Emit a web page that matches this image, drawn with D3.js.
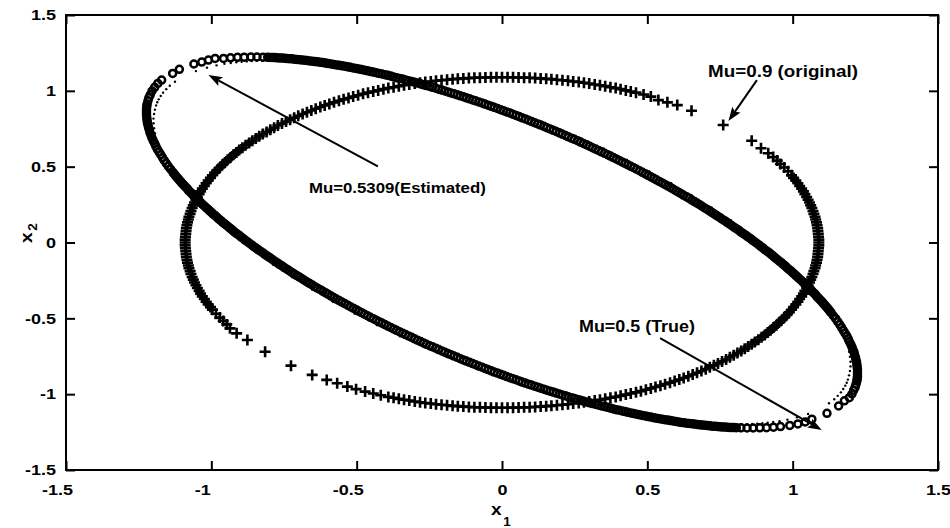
<!DOCTYPE html>
<html>
<head>
<meta charset="utf-8">
<script src="https://cdn.jsdelivr.net/npm/d3@7"></script>
<style>
  html, body { margin: 0; padding: 0; background: #fff; }
  svg text { font-family: "Liberation Sans", Arial, Helvetica, sans-serif; font-weight: bold; fill: #000; }
</style>
</head>
<body>
<svg id="chart" width="950" height="528"></svg>
<script>
// ---- axis ticks -------------------------------------------------------------
const xTicks = [-1.5, -1, -0.5, 0, 0.5, 1, 1.5];
const yTicks = [-1.5, -1, -0.5, 0, 0.5, 1, 1.5];
const xTickLabels = ["-1.5", "-1", "-0.5", "0", "0.5", "1", "1.5"];
const yTickLabels = ["-1.5", "-1", "-0.5", "0", "0.5", "1", "1.5"];

// ---- annotation texts -------------------------------------------------------
const noteLabels = ["Mu=0.5309(Estimated)", "Mu=0.9 (original)", "Mu=0.5 (True)"];

// ---- phase portrait samples [x1, x2] ----------------------------------------
// estimated model (Mu = 0.5309), 'o' markers
const muEstimated = [
[-1.171,1.071],[-1.133,1.115],[-1.110,1.142],[-1.060,1.177],[-1.033,1.190],[-1.010,1.203],[-0.987,1.214],
[-0.958,1.214],[-0.934,1.218],[-0.910,1.221],[-0.887,1.222],[-0.864,1.223],[-0.843,1.223],[-0.822,1.222],
[-0.806,1.221],[-0.790,1.220],[-0.774,1.218],[-0.757,1.216],[-0.740,1.213],[-0.723,1.211],[-0.706,1.207],[-0.689,1.204],[-0.671,1.200],[-0.653,1.195],[-0.635,1.191],[-0.616,1.186],[-0.598,1.180],[-0.579,1.174],[-0.560,1.168],
[-0.551,1.165],[-0.541,1.162],[-0.531,1.158],[-0.522,1.155],[-0.512,1.151],[-0.502,1.148],[-0.493,1.144],[-0.483,1.140],[-0.473,1.136],[-0.463,1.132],
[-0.453,1.128],[-0.443,1.124],[-0.433,1.120],[-0.423,1.115],[-0.413,1.111],[-0.403,1.106],[-0.393,1.102],[-0.383,1.097],[-0.373,1.092],[-0.363,1.087],
[-0.353,1.082],[-0.342,1.078],[-0.332,1.072],[-0.322,1.067],[-0.311,1.062],[-0.301,1.057],[-0.291,1.051],[-0.280,1.046],[-0.270,1.040],[-0.260,1.035],
[-0.249,1.029],[-0.239,1.023],[-0.228,1.017],[-0.218,1.011],[-0.207,1.005],[-0.197,0.999],[-0.186,0.993],[-0.176,0.986],[-0.165,0.980],[-0.154,0.974],
[-0.144,0.967],[-0.133,0.961],[-0.123,0.954],[-0.112,0.947],[-0.101,0.940],[-0.091,0.934],[-0.080,0.927],[-0.069,0.920],[-0.059,0.913],[-0.048,0.905],
[-0.037,0.898],[-0.027,0.891],[-0.016,0.884],[-0.005,0.876],[0.005,0.869],[0.016,0.861],[0.027,0.854],[0.037,0.846],[0.048,0.838],[0.059,0.830],
[0.069,0.822],[0.080,0.815],[0.091,0.806],[0.101,0.798],[0.112,0.790],[0.123,0.782],[0.133,0.774],[0.144,0.766],[0.154,0.757],[0.165,0.749],
[0.176,0.740],[0.186,0.732],[0.197,0.723],[0.207,0.715],[0.218,0.706],[0.228,0.697],[0.239,0.688],[0.249,0.680],[0.260,0.671],[0.270,0.662],
[0.280,0.653],[0.291,0.644],[0.301,0.635],[0.311,0.625],[0.322,0.616],[0.332,0.607],[0.342,0.598],[0.353,0.588],[0.363,0.579],[0.373,0.570],
[0.383,0.560],[0.393,0.551],[0.403,0.541],[0.413,0.531],[0.423,0.522],[0.433,0.512],[0.443,0.502],[0.453,0.493],[0.463,0.483],[0.473,0.473],
[0.483,0.463],[0.493,0.453],[0.502,0.443],[0.512,0.433],[0.522,0.423],[0.531,0.413],[0.541,0.403],[0.551,0.393],[0.560,0.383],[0.570,0.373],
[0.579,0.363],[0.588,0.353],[0.598,0.342],[0.607,0.332],[0.616,0.322],[0.625,0.311],[0.635,0.301],[0.644,0.291],[0.653,0.280],[0.662,0.270],
[0.671,0.260],[0.680,0.249],[0.688,0.239],[0.697,0.228],[0.706,0.218],[0.715,0.207],[0.723,0.197],[0.732,0.186],[0.740,0.176],[0.749,0.165],
[0.757,0.154],[0.766,0.144],[0.774,0.133],[0.782,0.123],[0.790,0.112],[0.798,0.101],[0.806,0.091],[0.815,0.080],[0.822,0.069],[0.830,0.059],
[0.846,0.037],[0.861,0.016],[0.876,-0.005],[0.891,-0.027],[0.905,-0.048],[0.920,-0.069],[0.934,-0.091],[0.947,-0.112],[0.961,-0.133],[0.974,-0.154],
[0.986,-0.176],[0.999,-0.197],[1.011,-0.218],[1.023,-0.239],[1.035,-0.260],[1.046,-0.280],[1.057,-0.301],[1.067,-0.322],[1.078,-0.342],[1.087,-0.363],
[1.097,-0.383],[1.106,-0.403],[1.115,-0.423],[1.124,-0.443],[1.132,-0.463],[1.140,-0.483],[1.148,-0.502],[1.155,-0.522],[1.162,-0.541],[1.168,-0.560],
[1.174,-0.579],[1.180,-0.598],[1.186,-0.616],[1.191,-0.635],[1.195,-0.653],[1.200,-0.671],[1.204,-0.689],[1.207,-0.706],[1.211,-0.723],[1.213,-0.740],
[1.216,-0.757],[1.218,-0.774],[1.220,-0.790],[1.221,-0.806],[1.222,-0.822],[1.223,-0.838],[1.223,-0.854],[1.223,-0.869],[1.223,-0.884],[1.222,-0.898],
[1.221,-0.913],[1.218,-0.934],[1.215,-0.954],[1.210,-0.974],[1.204,-0.999],[1.195,-1.023],
[1.178,-1.044],[1.158,-1.078],[1.118,-1.126],[1.066,-1.165],[1.043,-1.183],[1.018,-1.196],[0.990,-1.206],
[0.958,-1.214],[0.934,-1.218],[0.910,-1.221],[0.887,-1.222],[0.864,-1.223],[0.843,-1.223],[0.822,-1.222],
[0.806,-1.221],[0.790,-1.220],[0.774,-1.218],[0.757,-1.216],[0.740,-1.213],[0.723,-1.211],[0.706,-1.207],[0.689,-1.204],[0.671,-1.200],[0.653,-1.195],[0.635,-1.191],[0.616,-1.186],[0.598,-1.180],[0.579,-1.174],[0.560,-1.168],
[0.551,-1.165],[0.541,-1.162],[0.531,-1.158],[0.522,-1.155],[0.512,-1.151],[0.502,-1.148],[0.493,-1.144],[0.483,-1.140],[0.473,-1.136],[0.463,-1.132],
[0.453,-1.128],[0.443,-1.124],[0.433,-1.120],[0.423,-1.115],[0.413,-1.111],[0.403,-1.106],[0.393,-1.102],[0.383,-1.097],[0.373,-1.092],[0.363,-1.087],
[0.353,-1.082],[0.342,-1.078],[0.332,-1.072],[0.322,-1.067],[0.311,-1.062],[0.301,-1.057],[0.291,-1.051],[0.280,-1.046],[0.270,-1.040],[0.260,-1.035],
[0.249,-1.029],[0.239,-1.023],[0.228,-1.017],[0.218,-1.011],[0.207,-1.005],[0.197,-0.999],[0.186,-0.993],[0.176,-0.986],[0.165,-0.980],[0.154,-0.974],
[0.144,-0.967],[0.133,-0.961],[0.123,-0.954],[0.112,-0.947],[0.101,-0.940],[0.091,-0.934],[0.080,-0.927],[0.069,-0.920],[0.059,-0.913],[0.048,-0.905],
[0.037,-0.898],[0.027,-0.891],[0.016,-0.884],[0.005,-0.876],[-0.005,-0.869],[-0.016,-0.861],[-0.027,-0.854],[-0.037,-0.846],[-0.048,-0.838],[-0.059,-0.830],
[-0.069,-0.822],[-0.080,-0.815],[-0.091,-0.806],[-0.101,-0.798],[-0.112,-0.790],[-0.123,-0.782],[-0.133,-0.774],[-0.144,-0.766],[-0.154,-0.757],[-0.165,-0.749],
[-0.176,-0.740],[-0.186,-0.732],[-0.197,-0.723],[-0.207,-0.715],[-0.218,-0.706],[-0.228,-0.697],[-0.239,-0.688],[-0.249,-0.680],[-0.260,-0.671],[-0.270,-0.662],
[-0.280,-0.653],[-0.291,-0.644],[-0.301,-0.635],[-0.311,-0.625],[-0.322,-0.616],[-0.332,-0.607],[-0.342,-0.598],[-0.353,-0.588],[-0.363,-0.579],[-0.373,-0.570],
[-0.383,-0.560],[-0.393,-0.551],[-0.403,-0.541],[-0.413,-0.531],[-0.423,-0.522],[-0.433,-0.512],[-0.443,-0.502],[-0.453,-0.493],[-0.463,-0.483],[-0.473,-0.473],
[-0.483,-0.463],[-0.493,-0.453],[-0.502,-0.443],[-0.512,-0.433],[-0.522,-0.423],[-0.531,-0.413],[-0.541,-0.403],[-0.551,-0.393],[-0.560,-0.383],[-0.570,-0.373],
[-0.579,-0.363],[-0.588,-0.353],[-0.598,-0.342],[-0.607,-0.332],[-0.616,-0.322],[-0.625,-0.311],[-0.635,-0.301],[-0.644,-0.291],[-0.653,-0.280],[-0.662,-0.270],
[-0.671,-0.260],[-0.680,-0.249],[-0.688,-0.239],[-0.697,-0.228],[-0.706,-0.218],[-0.715,-0.207],[-0.723,-0.197],[-0.732,-0.186],[-0.740,-0.176],[-0.749,-0.165],
[-0.757,-0.154],[-0.766,-0.144],[-0.774,-0.133],[-0.782,-0.123],[-0.790,-0.112],[-0.798,-0.101],[-0.806,-0.091],[-0.815,-0.080],[-0.822,-0.069],[-0.830,-0.059],
[-0.846,-0.037],[-0.861,-0.016],[-0.876,0.005],[-0.891,0.027],[-0.905,0.048],[-0.920,0.069],[-0.934,0.091],[-0.947,0.112],[-0.961,0.133],[-0.974,0.154],
[-0.986,0.176],[-0.999,0.197],[-1.011,0.218],[-1.023,0.239],[-1.035,0.260],[-1.046,0.280],[-1.057,0.301],[-1.067,0.322],[-1.078,0.342],[-1.087,0.363],
[-1.097,0.383],[-1.106,0.403],[-1.115,0.423],[-1.124,0.443],[-1.132,0.463],[-1.140,0.483],[-1.148,0.502],[-1.155,0.522],[-1.162,0.541],[-1.168,0.560],
[-1.174,0.579],[-1.180,0.598],[-1.186,0.616],[-1.191,0.635],[-1.195,0.653],[-1.200,0.671],[-1.204,0.689],[-1.207,0.706],[-1.211,0.723],[-1.213,0.740],
[-1.216,0.757],[-1.218,0.774],[-1.220,0.790],[-1.221,0.806],[-1.222,0.822],[-1.223,0.838],[-1.223,0.854],[-1.223,0.869],[-1.223,0.884],[-1.222,0.898],
[-1.221,0.913],[-1.218,0.934],[-1.215,0.954],[-1.210,0.974],[-1.204,0.999],[-1.195,1.023],[-1.184,1.049],
[-0.798,1.220],[-0.782,1.219],[-0.766,1.217],[-0.749,1.215],[-0.732,1.212],[-0.715,1.209],[-0.697,1.205],[-0.680,1.202],[-0.662,1.197],[-0.644,1.193],
[-0.625,1.188],[-0.607,1.183],[-0.588,1.177],[-0.570,1.171],
[0.798,-1.220],[0.782,-1.219],[0.766,-1.217],[0.749,-1.215],[0.732,-1.212],[0.715,-1.209],[0.697,-1.205],[0.680,-1.202],[0.662,-1.197],[0.644,-1.193],
[0.625,-1.188],[0.607,-1.183],[0.588,-1.177],[0.570,-1.171],
[0.838,0.048],[0.854,0.027],[0.869,0.005],[0.884,-0.016],[0.898,-0.037],[0.913,-0.059],[0.927,-0.080],[0.940,-0.101],[0.954,-0.123],[0.967,-0.144],
[0.980,-0.165],[0.993,-0.186],[1.005,-0.207],[1.017,-0.228],[1.029,-0.249],[1.040,-0.270],[1.051,-0.291],[1.062,-0.311],[1.072,-0.332],[1.082,-0.353],
[1.092,-0.373],[1.102,-0.393],[1.111,-0.413],[1.120,-0.433],[1.128,-0.453],
[-0.838,-0.048],[-0.854,-0.027],[-0.869,-0.005],[-0.884,0.016],[-0.898,0.037],[-0.913,0.059],[-0.927,0.080],[-0.940,0.101],[-0.954,0.123],[-0.967,0.144],
[-0.980,0.165],[-0.993,0.186],[-1.005,0.207],[-1.017,0.228],[-1.029,0.249],[-1.040,0.270],[-1.051,0.291],[-1.062,0.311],[-1.072,0.332],[-1.082,0.353],
[-1.092,0.373],[-1.102,0.393],[-1.111,0.413],[-1.120,0.433],[-1.128,0.453]
];

// original system (Mu = 0.9), '+' markers
const muOriginal = [
[0.761,0.775],[0.652,0.869],[0.603,0.906],[0.569,0.924],[0.538,0.939],[0.512,0.962],[0.487,0.976],[0.461,0.988],
[0.443,0.996],[0.426,1.003],[0.408,1.011],[0.391,1.018],[0.373,1.024],[0.355,1.031],[0.337,1.037],[0.319,1.042],[0.300,1.048],[0.282,1.053],
[0.264,1.058],[0.245,1.062],[0.227,1.066],[0.208,1.070],[0.189,1.073],[0.170,1.077],[0.152,1.079],[0.133,1.082],[0.114,1.084],[0.095,1.086],
[0.076,1.087],[0.057,1.088],[0.038,1.089],[0.019,1.090],[0.000,1.090],
[-0.019,1.090],[-0.038,1.089],[-0.057,1.088],[-0.076,1.087],[-0.095,1.086],[-0.114,1.084],[-0.133,1.082],[-0.152,1.079],[-0.170,1.077],[-0.189,1.073],
[-0.208,1.070],[-0.227,1.066],[-0.245,1.062],[-0.264,1.058],[-0.282,1.053],[-0.300,1.048],[-0.319,1.042],[-0.337,1.037],[-0.355,1.031],[-0.373,1.024],
[-0.391,1.018],[-0.408,1.011],[-0.426,1.003],[-0.443,0.996],[-0.461,0.988],[-0.478,0.980],[-0.495,0.971],[-0.512,0.962],[-0.528,0.953],[-0.545,0.944],
[-0.561,0.934],[-0.578,0.924],[-0.594,0.914],[-0.610,0.904],[-0.625,0.893],[-0.641,0.882],[-0.656,0.870],[-0.671,0.859],[-0.686,0.847],[-0.701,0.835],
[-0.715,0.823],[-0.729,0.810],[-0.743,0.797],[-0.757,0.784],[-0.771,0.771],[-0.784,0.757],[-0.797,0.743],[-0.810,0.729],[-0.823,0.715],[-0.835,0.701],
[-0.847,0.686],[-0.859,0.671],[-0.870,0.656],[-0.882,0.641],[-0.893,0.625],[-0.904,0.610],[-0.914,0.594],[-0.924,0.578],[-0.934,0.561],[-0.944,0.545],
[-0.953,0.528],[-0.962,0.512],[-0.971,0.495],[-0.980,0.478],[-0.988,0.461],[-0.996,0.443],[-1.003,0.426],[-1.011,0.408],[-1.018,0.391],[-1.024,0.373],
[-1.031,0.355],[-1.037,0.337],[-1.042,0.319],[-1.048,0.300],[-1.053,0.282],[-1.058,0.264],[-1.062,0.245],[-1.066,0.227],[-1.070,0.208],[-1.073,0.189],
[-1.077,0.170],[-1.079,0.152],[-1.082,0.133],[-1.084,0.114],[-1.086,0.095],[-1.087,0.076],[-1.088,0.057],[-1.089,0.038],[-1.090,0.019],[-1.090,0.000],
[-1.090,-0.019],[-1.089,-0.038],[-1.088,-0.057],[-1.087,-0.076],[-1.086,-0.095],[-1.084,-0.114],[-1.082,-0.133],[-1.079,-0.152],[-1.077,-0.170],[-1.073,-0.189],
[-1.070,-0.208],[-1.066,-0.227],[-1.062,-0.245],[-1.058,-0.264],[-1.053,-0.282],[-1.048,-0.300],[-1.042,-0.319],[-1.037,-0.337],[-1.031,-0.355],[-1.024,-0.373],
[-1.018,-0.391],[-1.011,-0.408],[-1.003,-0.426],[-0.996,-0.443],[-0.984,-0.470],[-0.971,-0.495],[-0.959,-0.517],[-0.947,-0.540],
[-0.936,-0.566],[-0.913,-0.599],[-0.876,-0.643],[-0.815,-0.720],
[-0.726,-0.812],[-0.653,-0.873],[-0.603,-0.906],[-0.567,-0.928],[-0.532,-0.950],
[-0.502,-0.967],[-0.471,-0.983],[-0.443,-0.996],[-0.417,-1.007],[-0.391,-1.018],
[-0.373,-1.024],[-0.355,-1.031],[-0.337,-1.037],[-0.319,-1.042],[-0.300,-1.048],[-0.282,-1.053],[-0.264,-1.058],[-0.245,-1.062],[-0.227,-1.066],[-0.208,-1.070],
[-0.189,-1.073],[-0.170,-1.077],[-0.152,-1.079],[-0.133,-1.082],[-0.114,-1.084],[-0.095,-1.086],[-0.076,-1.087],[-0.057,-1.088],[-0.038,-1.089],[-0.019,-1.090],
[0.000,-1.090],[0.019,-1.090],[0.038,-1.089],[0.057,-1.088],[0.076,-1.087],[0.095,-1.086],[0.114,-1.084],[0.133,-1.082],[0.152,-1.079],[0.170,-1.077],
[0.189,-1.073],[0.208,-1.070],[0.227,-1.066],[0.245,-1.062],[0.264,-1.058],[0.282,-1.053],[0.300,-1.048],[0.319,-1.042],[0.337,-1.037],[0.355,-1.031],
[0.373,-1.024],[0.391,-1.018],[0.408,-1.011],[0.426,-1.003],[0.443,-0.996],[0.461,-0.988],[0.478,-0.980],[0.495,-0.971],[0.512,-0.962],[0.528,-0.953],
[0.545,-0.944],[0.561,-0.934],[0.578,-0.924],[0.594,-0.914],[0.610,-0.904],[0.625,-0.893],[0.641,-0.882],[0.656,-0.870],[0.671,-0.859],[0.686,-0.847],
[0.701,-0.835],[0.715,-0.823],[0.729,-0.810],[0.743,-0.797],[0.757,-0.784],[0.771,-0.771],[0.784,-0.757],[0.797,-0.743],[0.810,-0.729],[0.823,-0.715],
[0.835,-0.701],[0.847,-0.686],[0.859,-0.671],[0.870,-0.656],[0.882,-0.641],[0.893,-0.625],[0.904,-0.610],[0.914,-0.594],[0.924,-0.578],[0.934,-0.561],
[0.944,-0.545],[0.953,-0.528],[0.962,-0.512],[0.971,-0.495],[0.980,-0.478],[0.988,-0.461],[0.996,-0.443],[1.003,-0.426],[1.011,-0.408],[1.018,-0.391],
[1.024,-0.373],[1.031,-0.355],[1.037,-0.337],[1.042,-0.319],[1.048,-0.300],[1.053,-0.282],[1.058,-0.264],[1.062,-0.245],[1.066,-0.227],[1.070,-0.208],
[1.073,-0.189],[1.077,-0.170],[1.079,-0.152],[1.082,-0.133],[1.084,-0.114],[1.086,-0.095],[1.087,-0.076],[1.088,-0.057],[1.089,-0.038],[1.090,-0.019],
[1.090,0.000],[1.090,0.019],[1.089,0.038],[1.088,0.057],[1.087,0.076],[1.086,0.095],[1.084,0.114],[1.082,0.133],[1.079,0.152],[1.077,0.170],
[1.073,0.189],[1.070,0.208],[1.066,0.227],[1.062,0.245],[1.058,0.264],[1.053,0.282],[1.048,0.300],[1.042,0.319],[1.037,0.337],[1.031,0.355],
[1.024,0.373],[1.018,0.391],[1.011,0.408],[1.003,0.426],[0.996,0.443],[0.984,0.470],[0.971,0.495],[0.958,0.518],[0.947,0.540],[0.933,0.563],
[0.916,0.588],[0.891,0.621],[0.859,0.671]
];

// true system (Mu = 0.5), '.' markers
const muTrue = [
[-1.197,0.754],[-1.199,0.786],[-1.199,0.817],[-1.197,0.847],[-1.194,0.876],[-1.190,0.904],[-1.186,0.925],[-1.181,0.944],[-1.174,0.966],[-1.166,0.988],
[-1.155,1.011],[-1.143,1.034],[-1.125,1.060],
[-1.053,1.130],[-1.015,1.153],[-0.982,1.168],[-0.955,1.178],[-0.933,1.184],[-0.914,1.188],[-0.896,1.191],[-0.878,1.194],[-0.861,1.196],[-0.843,1.198],
[-0.825,1.198],[-0.806,1.199],[-0.786,1.199],[-0.762,1.198],[-0.738,1.196],
[-0.687,1.190],[-0.617,1.177],[-0.544,1.158],[-0.468,1.134],[-0.390,1.104],[-0.310,1.068],[-0.228,1.028],[-0.146,0.982],[-0.062,0.932],[0.021,0.877],
[0.105,0.818],[0.188,0.755],[0.270,0.688],[0.351,0.618],[0.430,0.545],[0.507,0.469],[0.582,0.391],[0.653,0.311],[0.722,0.229],[0.787,0.147],
[0.848,0.063],[0.905,-0.020],[0.958,-0.104],[1.006,-0.187],[1.049,-0.269],[1.087,-0.350],[1.119,-0.429],[1.147,-0.506],[1.168,-0.581],[1.184,-0.653],[1.194,-0.721],
[1.197,-0.754],[1.199,-0.786],[1.199,-0.817],[1.197,-0.847],[1.194,-0.876],[1.190,-0.904],[1.186,-0.925],[1.181,-0.944],[1.174,-0.966],[1.166,-0.988],
[1.155,-1.011],[1.143,-1.034],[1.125,-1.060],
[1.053,-1.130],[1.015,-1.153],[0.982,-1.168],[0.955,-1.178],[0.933,-1.184],[0.914,-1.188],[0.896,-1.191],[0.878,-1.194],[0.861,-1.196],[0.843,-1.198],
[0.825,-1.198],[0.806,-1.199],[0.786,-1.199],[0.762,-1.198],[0.738,-1.196],
[0.687,-1.190],[0.617,-1.177],[0.544,-1.158],[0.468,-1.134],[0.390,-1.104],[0.310,-1.068],[0.228,-1.028],[0.146,-0.982],[0.062,-0.932],[-0.021,-0.877],
[-0.105,-0.818],[-0.188,-0.755],[-0.270,-0.688],[-0.351,-0.618],[-0.430,-0.545],[-0.507,-0.469],[-0.582,-0.391],[-0.653,-0.311],[-0.722,-0.229],[-0.787,-0.147],
[-0.848,-0.063],[-0.905,0.020],[-0.958,0.104],[-1.006,0.187],[-1.049,0.269],[-1.087,0.350],[-1.119,0.429],[-1.147,0.506],[-1.168,0.581],[-1.184,0.653],[-1.194,0.721]
];

// ---- layout -------------------------------------------------------------------
const W = 950, H = 528;
const margin = { left: 66, right: 12, top: 15, bottom: 58 };
const NOTE_STRETCH = 1.12;  // horizontal stretch of annotation lettering
const TICK_STRETCH = 1.2;   // horizontal stretch of tick lettering
const TICK = 9;             // inward tick length

const svg = d3.select("#chart");
svg.append("rect").attr("width", W).attr("height", H).attr("fill", "#fff");

const x = d3.scaleLinear().domain([-1.5, 1.5]).range([margin.left, W - margin.right]);
const y = d3.scaleLinear().domain([-1.5, 1.5]).range([H - margin.bottom, margin.top]);

function styleAxis(g) {
  g.attr("font-family", null).attr("font-size", null);
  g.select(".domain").remove();
  g.selectAll(".tick line").attr("stroke", "#000").attr("stroke-width", 2);
  g.selectAll(".tick text").attr("fill", "#000").style("font-size", "15px");
}

// bottom axis; labels of negative values sit a little to the left of their tick
const gx = svg.append("g")
  .attr("transform", `translate(0,${y(-1.5)})`)
  .call(d3.axisBottom(x).tickValues(xTicks).tickFormat((d, i) => xTickLabels[i])
        .tickSizeInner(-TICK).tickSizeOuter(0).tickPadding(14));
styleAxis(gx);
gx.selectAll(".tick text")
  .attr("x", d => (d < 0 ? -9 : 0) / TICK_STRETCH)
  .attr("transform", `scale(${TICK_STRETCH},1)`);

// left axis
const gy = svg.append("g")
  .attr("transform", `translate(${x(-1.5)},0)`)
  .call(d3.axisLeft(y).tickValues(yTicks).tickFormat((d, i) => yTickLabels[i])
        .tickSizeInner(-TICK).tickSizeOuter(0).tickPadding(10));
styleAxis(gy);
gy.selectAll(".tick text").attr("x", -10 / TICK_STRETCH).attr("transform", `scale(${TICK_STRETCH},1)`);

// top and right axes (ticks only)
const gt = svg.append("g")
  .attr("transform", `translate(0,${y(1.5)})`)
  .call(d3.axisTop(x).tickValues(xTicks).tickFormat("").tickSizeInner(-TICK).tickSizeOuter(0));
styleAxis(gt);
const gr = svg.append("g")
  .attr("transform", `translate(${x(1.5)},0)`)
  .call(d3.axisRight(y).tickValues(yTicks).tickFormat("").tickSizeInner(-TICK).tickSizeOuter(0));
styleAxis(gr);

// frame
svg.append("rect")
  .attr("x", x(-1.5)).attr("y", y(1.5))
  .attr("width", x(1.5) - x(-1.5)).attr("height", y(-1.5) - y(1.5))
  .attr("fill", "none").attr("stroke", "#000").attr("stroke-width", 2);

// axis titles with subscripts
const xt = svg.append("text")
  .attr("transform", `translate(491,515) scale(${NOTE_STRETCH},1)`);
xt.append("tspan").style("font-size", "17px").text("x");
xt.append("tspan").style("font-size", "12px").attr("dx", 1.5).attr("dy", 11).text("1");

const yt = svg.append("text")
  .attr("transform", `translate(32,243) rotate(-90) scale(${NOTE_STRETCH},1)`);
yt.append("tspan").style("font-size", "17px").text("x");
yt.append("tspan").style("font-size", "12px").attr("dx", 1.5).attr("dy", 5).text("2");

// ---- markers --------------------------------------------------------------------
const plot = svg.append("g");

plot.append("g").selectAll("circle")
  .data(muEstimated).join("circle")
  .attr("cx", d => x(d[0])).attr("cy", d => y(d[1]))
  .attr("r", 3.5)
  .attr("fill", "none").attr("stroke", "#000").attr("stroke-width", 2.5);

const arm = 5.5;
plot.append("g").selectAll("path")
  .data(muOriginal).join("path")
  .attr("transform", d => `translate(${x(d[0])},${y(d[1])})`)
  .attr("d", `M${-arm},0H${arm}M0,${-arm}V${arm}`)
  .attr("fill", "none").attr("stroke", "#000").attr("stroke-width", 2.6);

plot.append("g").selectAll("circle")
  .data(muTrue).join("circle")
  .attr("cx", d => x(d[0])).attr("cy", d => y(d[1]))
  .attr("r", 1.2).attr("fill", "#000");

// ---- annotations ------------------------------------------------------------------
function arrow(from, to) {
  const x0 = x(from[0]), y0 = y(from[1]), x1 = x(to[0]), y1 = y(to[1]);
  const dx = x1 - x0, dy = y1 - y0, len = Math.hypot(dx, dy);
  const ux = dx / len, uy = dy / len, nx = -uy, ny = ux;
  const L = 14, Wd = 5, notch = 0.8 * L;
  svg.append("line")
    .attr("x1", x0).attr("y1", y0)
    .attr("x2", x1 - ux * notch).attr("y2", y1 - uy * notch)
    .attr("stroke", "#000").attr("stroke-width", 2);
  const bx = x1 - ux * L, by = y1 - uy * L;
  svg.append("path")
    .attr("d", `M${x1},${y1}L${bx + nx * Wd},${by + ny * Wd}L${x1 - ux * notch},${y1 - uy * notch}L${bx - nx * Wd},${by - ny * Wd}Z`)
    .attr("fill", "#000");
}

function note(label, at, size) {
  svg.append("text")
    .attr("transform", `translate(${x(at[0])},${y(at[1])}) scale(${NOTE_STRETCH},1)`)
    .style("font-size", size + "px")
    .text(label);
}

note(noteLabels[0], [-0.664, 0.328], 15);
arrow([-0.427, 0.502], [-1.010, 1.104]);

note(noteLabels[1], [0.709, 1.089], 16.8);
arrow([0.877, 1.071], [0.779, 0.801]);

note(noteLabels[2], [0.265, -0.590], 16);
arrow([0.544, -0.630], [1.100, -1.236]);
</script>
</body>
</html>
